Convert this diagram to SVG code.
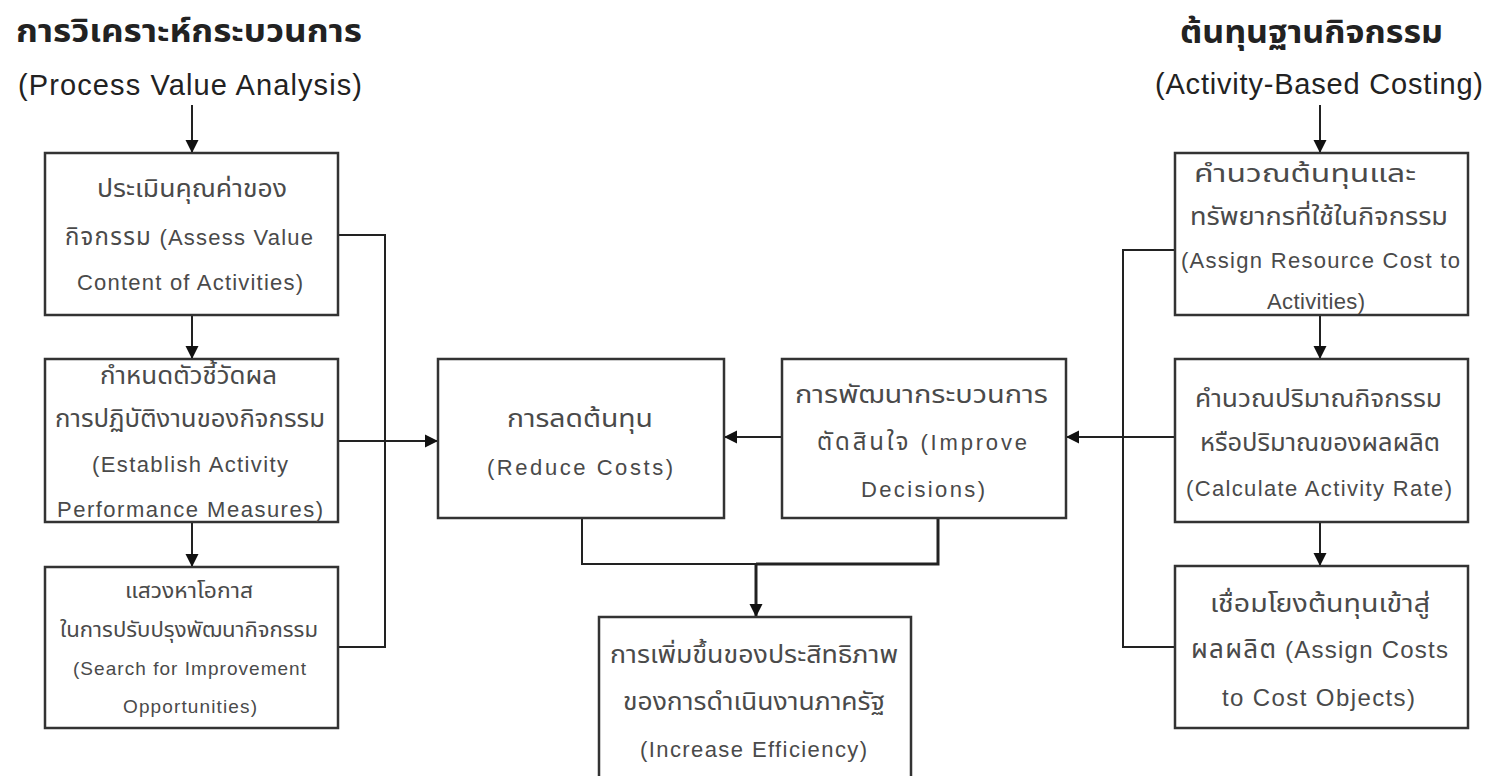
<svg xmlns="http://www.w3.org/2000/svg" width="1488" height="776" viewBox="0 0 1488 776">
<style>
.box{fill:#fff;stroke:#333;stroke-width:2.5}
.t{font-family:"Liberation Sans","Noto Sans Thai","Noto Sans",Arial,sans-serif;fill:#4a4a4a;font-size:22px}
.th{font-size:24px}
.s{font-size:19px}
.sth{font-size:21px}
.b{font-size:24px}
.h{font-family:"Liberation Sans","Noto Sans Thai","Noto Sans",Arial,sans-serif;fill:#222;font-size:29px}
.hb{font-weight:bold;font-size:32px}
.c{fill:none;stroke:#222;stroke-width:2}
.k{fill:none;stroke:#222;stroke-width:3}
</style>
<defs>
<marker id="ah" markerUnits="userSpaceOnUse" markerWidth="14" markerHeight="14" refX="13" refY="7" orient="auto">
<path d="M0,0.5 L13,7 L0,13.5 z" fill="#111"/>
</marker>
</defs>
<rect width="1488" height="776" fill="#fff"/>

<g id="title-left">
<text class="h hb" x="16" y="42" textLength="346" lengthAdjust="spacingAndGlyphs">การวิเคราะห์กระบวนการ</text>
<text class="h" x="18" y="95" textLength="344" lengthAdjust="spacing">(Process Value Analysis)</text>
</g>
<g id="title-right">
<text class="h hb" x="1180" y="43" textLength="263" lengthAdjust="spacingAndGlyphs">ต้นทุนฐานกิจกรรม</text>
<text class="h" x="1155" y="94" textLength="328" lengthAdjust="spacing">(Activity-Based Costing)</text>
</g>

<g id="connectors">
<path class="c" d="M192,105 V153" marker-end="url(#ah)"/>
<path class="c" d="M192,315 V359" marker-end="url(#ah)"/>
<path class="c" d="M192,522 V567" marker-end="url(#ah)"/>
<path class="c" d="M338,235 H385 V647 H338"/>
<path class="c" d="M338,441 H438" marker-end="url(#ah)"/>
<path class="c" d="M782,437 H724" marker-end="url(#ah)"/>
<path class="c" d="M1175,250 H1123 V647 H1175"/>
<path class="c" d="M1175,437 H1066" marker-end="url(#ah)"/>
<path class="c" d="M1320,105 V153" marker-end="url(#ah)"/>
<path class="c" d="M1320,315 V359" marker-end="url(#ah)"/>
<path class="c" d="M1320,522 V566" marker-end="url(#ah)"/>
<path class="c" d="M582,518 V564 H756"/>
<path class="k" d="M756,564 H938 V518"/>
<path class="k" d="M756,564 V617" marker-end="url(#ah)"/>
</g>

<g id="assess">
<rect class="box" x="45" y="153" width="293" height="162"/>
<text class="t th" x="97" y="197" textLength="190" lengthAdjust="spacingAndGlyphs">ประเมินคุณค่าของ</text>
<text class="t" x="65" y="245" textLength="248" lengthAdjust="spacing"><tspan class="th">กิจกรรม</tspan> (Assess Value</text>
<text class="t" x="77" y="290" textLength="226" lengthAdjust="spacing">Content of Activities)</text>
</g>
<g id="establish">
<rect class="box" x="45" y="359" width="293" height="163"/>
<text class="t th" x="100" y="384" textLength="177" lengthAdjust="spacingAndGlyphs">กำหนดตัวชี้วัดผล</text>
<text class="t th" x="55" y="427" textLength="270" lengthAdjust="spacingAndGlyphs">การปฏิบัติงานของกิจกรรม</text>
<text class="t" x="92" y="472" textLength="196" lengthAdjust="spacing">(Establish Activity</text>
<text class="t" x="57" y="517" textLength="266" lengthAdjust="spacing">Performance Measures)</text>
</g>
<g id="search">
<rect class="box" x="45" y="567" width="293" height="161"/>
<text class="t sth" x="125" y="598" textLength="128" lengthAdjust="spacingAndGlyphs">แสวงหาโอกาส</text>
<text class="t sth" x="60" y="637" textLength="258" lengthAdjust="spacingAndGlyphs">ในการปรับปรุงพัฒนากิจกรรม</text>
<text class="t s" x="73" y="675" textLength="233" lengthAdjust="spacing">(Search for Improvement</text>
<text class="t s" x="123" y="713" textLength="134" lengthAdjust="spacing">Opportunities)</text>
</g>
<g id="reduce">
<rect class="box" x="438" y="359" width="286" height="159"/>
<text class="t th" x="507" y="427" textLength="146" lengthAdjust="spacingAndGlyphs">การลดต้นทุน</text>
<text class="t" x="487" y="475" textLength="186" lengthAdjust="spacing">(Reduce Costs)</text>
</g>
<g id="improve">
<rect class="box" x="782" y="359" width="284" height="159"/>
<text class="t th" x="795" y="403" textLength="253" lengthAdjust="spacingAndGlyphs">การพัฒนากระบวนการ</text>
<text class="t" x="817" y="450" textLength="210" lengthAdjust="spacing"><tspan class="th">ตัดสินใจ</tspan> (Improve</text>
<text class="t" x="861" y="497" textLength="124" lengthAdjust="spacing">Decisions)</text>
</g>
<g id="efficiency">
<rect class="box" x="599" y="617" width="312" height="190"/>
<text class="t th" x="610" y="663" textLength="288" lengthAdjust="spacingAndGlyphs">การเพิ่มขึ้นของประสิทธิภาพ</text>
<text class="t th" x="623" y="710" textLength="262" lengthAdjust="spacingAndGlyphs">ของการดำเนินงานภาครัฐ</text>
<text class="t" x="640" y="757" textLength="227" lengthAdjust="spacing">(Increase Efficiency)</text>
</g>
<g id="assign-resource">
<rect class="box" x="1175" y="153" width="293" height="162"/>
<text class="t th" x="1194" y="182" textLength="222" lengthAdjust="spacingAndGlyphs">คำนวณต้นทุนและ</text>
<text class="t th" x="1190" y="225" textLength="258" lengthAdjust="spacingAndGlyphs">ทรัพยากรที่ใช้ในกิจกรรม</text>
<text class="t" x="1181" y="268" textLength="279" lengthAdjust="spacing">(Assign Resource Cost to</text>
<text class="t" x="1267" y="309" textLength="98" lengthAdjust="spacing">Activities)</text>
</g>
<g id="activity-rate">
<rect class="box" x="1175" y="359" width="293" height="163"/>
<text class="t th" x="1195" y="407" textLength="247" lengthAdjust="spacingAndGlyphs">คำนวณปริมาณกิจกรรม</text>
<text class="t th" x="1200" y="451" textLength="240" lengthAdjust="spacingAndGlyphs">หรือปริมาณของผลผลิต</text>
<text class="t" x="1186" y="496" textLength="266" lengthAdjust="spacing">(Calculate Activity Rate)</text>
</g>
<g id="cost-objects">
<rect class="box" x="1175" y="566" width="293" height="162"/>
<text class="t b" x="1210" y="612" textLength="220" lengthAdjust="spacingAndGlyphs">เชื่อมโยงต้นทุนเข้าสู่</text>
<text class="t b" x="1191" y="658" textLength="257" lengthAdjust="spacing"><tspan font-size="26">ผลผลิต</tspan> (Assign Costs</text>
<text class="t b" x="1222" y="706" textLength="193" lengthAdjust="spacing">to Cost Objects)</text>
</g>
</svg>
